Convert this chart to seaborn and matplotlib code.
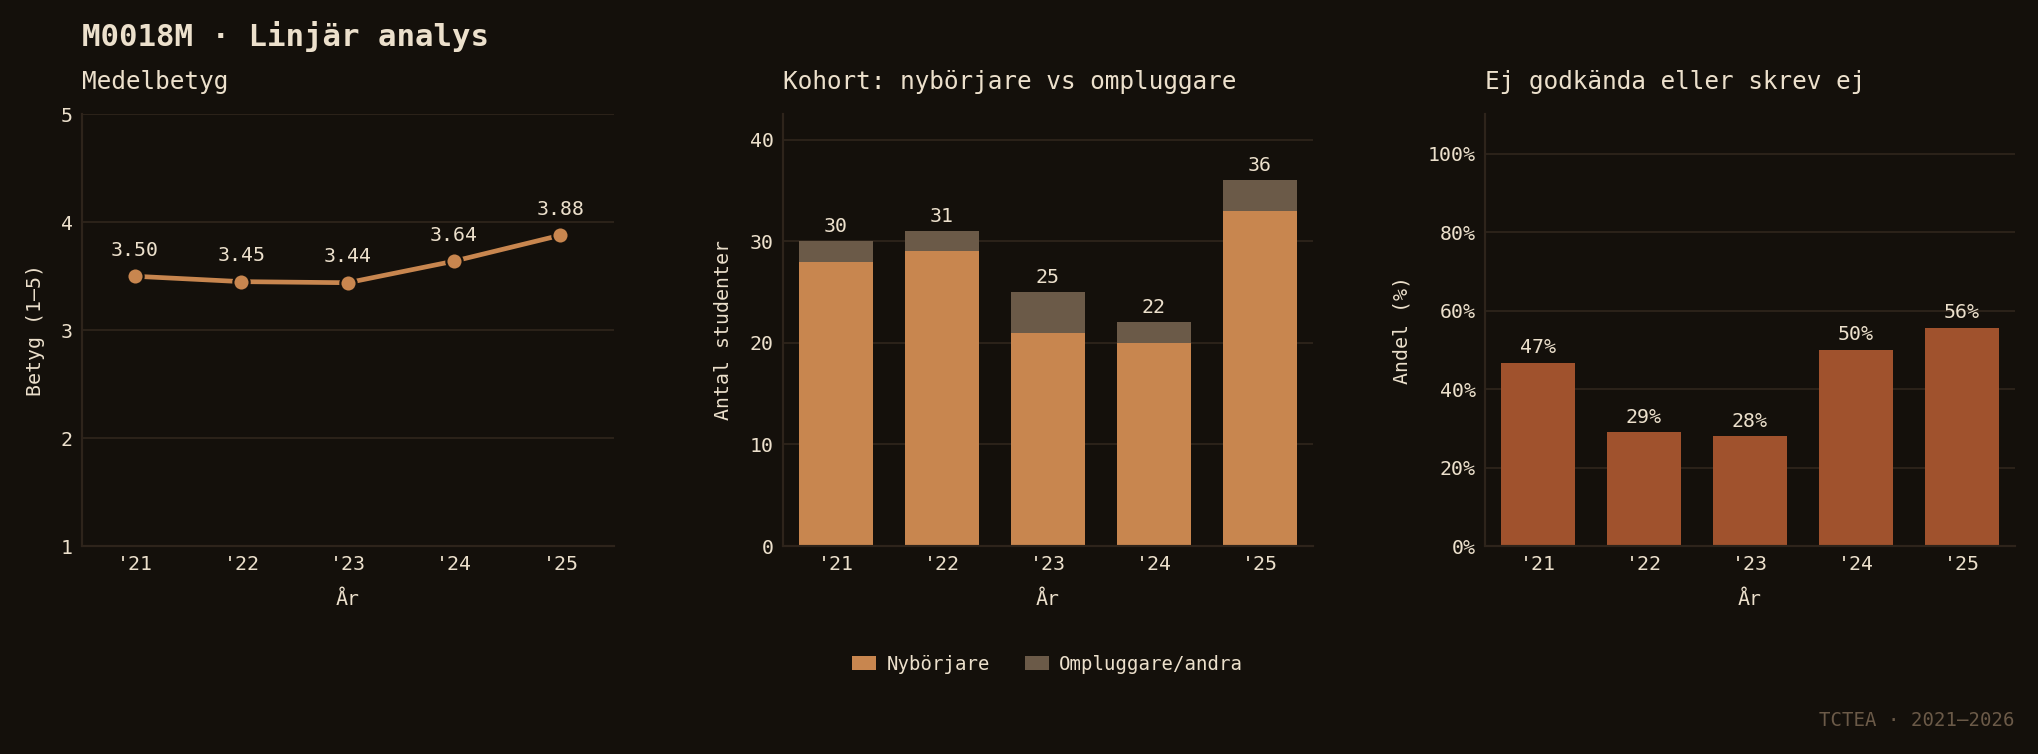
import matplotlib
matplotlib.use("Agg")
import matplotlib.pyplot as plt
import seaborn as sns
import pandas as pd
import numpy as np
from matplotlib.patches import Patch

# ---- data ----
years = ["'21", "'22", "'23", "'24", "'25"]
mean_grade = [3.50, 3.45, 3.44, 3.64, 3.88]
new_students = [28, 29, 21, 20, 33]
total_students = [30, 31, 25, 22, 36]
fail_pct = [46.7, 29.0, 28.0, 50.0, 55.6]

BG = "#14100b"
TXT = "#ece0cc"
GRID = "#2e241b"
ORANGE = "#c8864f"
GREY = "#6b5a48"
SIENNA = "#a0522d"
FOOT = "#6b5a48"

sns.set_theme(style="dark")
plt.rcParams.update({
    "font.family": ["DejaVu Sans Mono", "DejaVu Sans"],
    "figure.facecolor": BG,
    "axes.facecolor": BG,
    "savefig.facecolor": BG,
    "text.color": TXT,
    "axes.labelcolor": TXT,
    "xtick.color": TXT,
    "ytick.color": TXT,
    "axes.edgecolor": GRID,
})

fig = plt.figure(figsize=(15.68, 5.8), dpi=130)
W, H = 1568, 580
def rect(x0, x1, y0, y1):
    return [x0 / W, 1 - y1 / H, (x1 - x0) / W, (y1 - y0) / H]

ax1 = fig.add_axes(rect(63, 472, 88, 420))
ax2 = fig.add_axes(rect(602, 1010, 88, 420))
ax3 = fig.add_axes(rect(1142, 1550, 88, 420))

def style(ax):
    ax.set_facecolor(BG)
    for s in ["top", "right"]:
        ax.spines[s].set_visible(False)
    for s in ["left", "bottom"]:
        ax.spines[s].set_color(GRID)
        ax.spines[s].set_linewidth(1.2)
    ax.grid(axis="y", color=GRID, linewidth=1.0)
    ax.grid(axis="x", visible=False)
    ax.set_axisbelow(True)
    ax.tick_params(axis="both", length=0, labelsize=11, pad=5, colors=TXT)

# ---- panel 1: line ----
df1 = pd.DataFrame({"x": np.arange(len(years)), "y": mean_grade})
sns.lineplot(data=df1, x="x", y="y", ax=ax1, color=ORANGE, linewidth=2.6,
             marker="o", markersize=9, markeredgecolor=BG, markeredgewidth=1.2)
ax1.set_xlim(-0.5, len(years) - 0.5)
ax1.set_ylim(1, 5)
ax1.set_yticks([1, 2, 3, 4, 5])
ax1.set_xticks(np.arange(len(years)))
ax1.set_xticklabels(years)
for i, v in enumerate(mean_grade):
    ax1.annotate(f"{v:.2f}", (i, v), xytext=(0, 9), textcoords="offset points",
                 ha="center", va="bottom", fontsize=11, color=TXT)
style(ax1)
ax1.set_xlabel("År", fontsize=11, labelpad=9)
ax1.set_ylabel("Betyg (1–5)", fontsize=11, labelpad=9)
ax1.set_title("Medelbetyg", loc="left", fontsize=13.5, color=TXT, pad=14)

# ---- panel 2: stacked bars ----
df2 = pd.DataFrame({"year": years, "total": total_students, "new": new_students})
sns.barplot(data=df2, x="year", y="total", ax=ax2, color=GREY, width=0.7,
            saturation=1, edgecolor="none")
sns.barplot(data=df2, x="year", y="new", ax=ax2, color=ORANGE, width=0.7,
            saturation=1, edgecolor="none")
ax2.set_ylim(0, max(total_students) * 1.18)
ax2.set_yticks([0, 10, 20, 30, 40])
for i, v in enumerate(total_students):
    ax2.annotate(f"{v}", (i, v), xytext=(0, 3), textcoords="offset points",
                 ha="center", va="bottom", fontsize=11, color=TXT)
style(ax2)
ax2.set_xlabel("År", fontsize=11, labelpad=9)
ax2.set_ylabel("Antal studenter", fontsize=11, labelpad=9)
ax2.set_title("Kohort: nybörjare vs ompluggare", loc="left", fontsize=13.5, color=TXT, pad=14)
handles = [Patch(facecolor=ORANGE, edgecolor="none", label="Nybörjare"),
           Patch(facecolor=GREY, edgecolor="none", label="Ompluggare/andra")]
fig.legend(handles=handles, loc="center", bbox_to_anchor=((602 + 1010) / 2 / W, 1 - 511 / H),
           ncol=2, frameon=False, fontsize=10.5, labelcolor=TXT, handlelength=1.25,
           handleheight=0.75, handletextpad=0.55, columnspacing=1.85)

# ---- panel 3: fail bars ----
df3 = pd.DataFrame({"year": years, "pct": fail_pct})
sns.barplot(data=df3, x="year", y="pct", ax=ax3, color=SIENNA, width=0.7,
            saturation=1, edgecolor="none")
ax3.set_ylim(0, 110)
ax3.set_yticks([0, 20, 40, 60, 80, 100])
ax3.set_yticklabels([f"{t}%" for t in [0, 20, 40, 60, 80, 100]])
for i, v in enumerate(fail_pct):
    ax3.annotate(f"{v:.0f}%", (i, v), xytext=(0, 3), textcoords="offset points",
                 ha="center", va="bottom", fontsize=11, color=TXT)
style(ax3)
ax3.set_xlabel("År", fontsize=11, labelpad=9)
ax3.set_ylabel("Andel (%)", fontsize=11, labelpad=9)
ax3.set_title("Ej godkända eller skrev ej", loc="left", fontsize=13.5, color=TXT, pad=14)

fig.text(63 / W, 1 - 28 / H, "M0018M · Linjär analys", fontsize=17, fontweight="bold",
         color=TXT, ha="left", va="center")
fig.text(1550 / W, 1 - 554 / H, "TCTEA · 2021–2026", fontsize=10.5, color=FOOT,
         ha="right", va="center")

fig.savefig("out.png", dpi=130, facecolor=BG)
